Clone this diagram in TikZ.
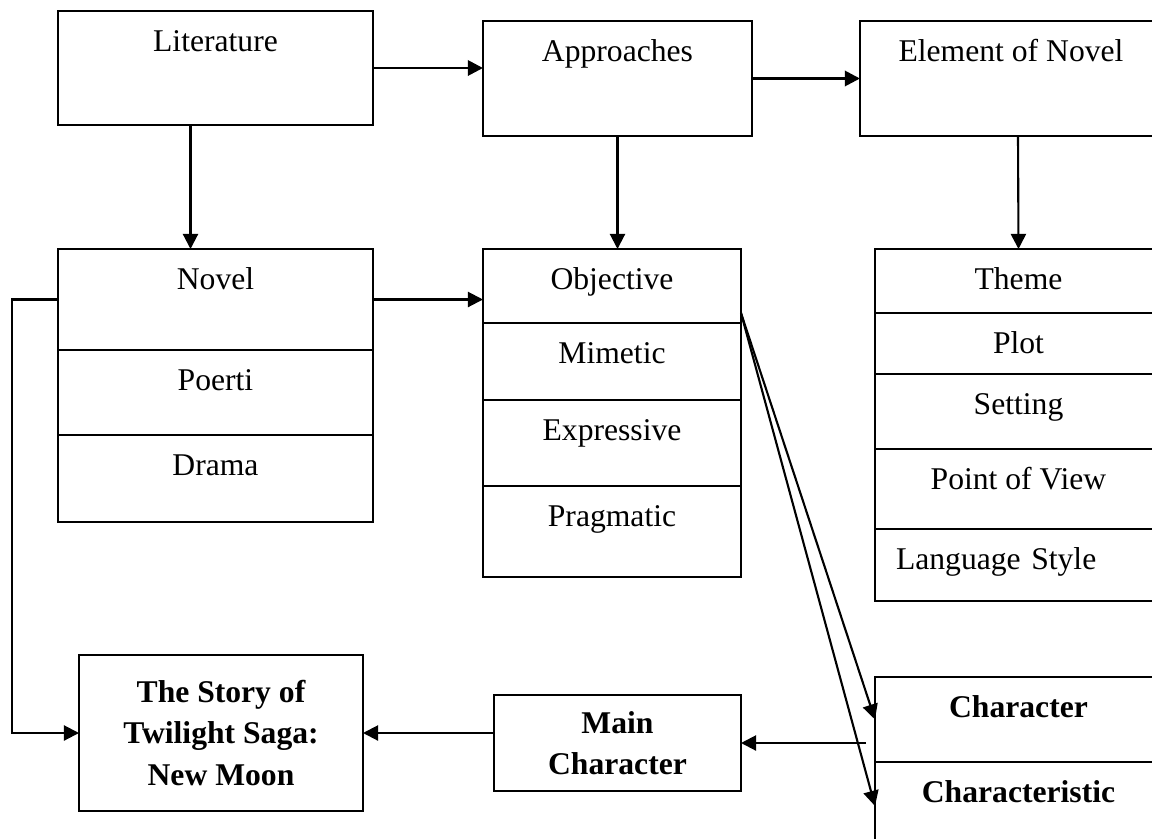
\documentclass[tikz,border=0pt]{standalone}
\usepackage{fontspec}
\setmainfont{Liberation Serif}
\usepackage{tikz}
\usetikzlibrary{
  arrows.meta,
  positioning,
  calc
}
\tikzset{
  cell/.style={
    rectangle, draw, line width=1.6pt, inner sep=0pt, outer sep=0pt,
    text height=1cm, text depth=#1, text centered
  },
  boldbox/.style={
    rectangle, draw, line width=1.6pt, inner sep=0pt, outer sep=0pt,
    align=center, font=\fontsize{22.5}{29.5}\selectfont\bfseries
  },
  arrow/.style={-{Triangle[length=0.38cm, width=0.38cm]}, line width=1.5pt},
}

\begin{document}
\begin{tikzpicture}[
  every node/.style={font=\fontsize{22.5}{29.5}\selectfont},
  colA/.style={minimum width=7.875cm},
  colB/.style={minimum width=6.45cm},
  colC/.style={minimum width=7.175cm},
]
\useasboundingbox (0,0) rectangle (28.8,-20.95);
\clip (0,0) rectangle (28.8,-20.95);

% Top row
\node[cell=1.85cm, colA, anchor=north west] (lit) at (1.45,-0.275) {Literature};
\node[cell=1.875cm, minimum width=6.725cm, anchor=north west] (appr) at (12.075,-0.525) {Approaches};
\node[cell=1.875cm, minimum width=7.55cm, anchor=north west] (elem) at (21.5,-0.525) {Element of Novel};

% Genres
\node[cell=1.525cm, colA, anchor=north west] (novel) at (1.45,-6.225) {Novel};
\node[cell=1.125cm, colA, below=0pt of novel] (poerti) {Poerti};
\node[cell=1.175cm, colA, below=0pt of poerti] (drama) {Drama};

% Approaches list
\node[cell=0.85cm, colB, anchor=north west] (obj) at (12.075,-6.225) {Objective};
\node[cell=0.925cm, colB, below=0pt of obj] (mimetic) {Mimetic};
\node[cell=1.15cm, colB, below=0pt of mimetic] (expr) {Expressive};
\node[cell=1.275cm, colB, below=0pt of expr] (prag) {Pragmatic};

% Elements list
\node[cell=0.6cm, colC, anchor=north west] (theme) at (21.875,-6.225) {Theme};
\node[cell=0.525cm, colC, below=0pt of theme] (plot) {Plot};
\node[cell=0.875cm, colC, below=0pt of plot] (setting) {Setting};
\node[cell=1.0cm, colC, below=0pt of setting] (pov) {Point of View};
\node[cell=0.8cm, colC, below=0pt of pov, inner xsep=0.525cm, text width=6.125cm, align=left] (lang) {Language Style};

% Bottom row
\node[boldbox, minimum width=7.1cm, minimum height=3.9cm, anchor=north west] (story) at (1.975,-16.375) {The Story of\\Twilight Saga:\\New Moon};
\node[boldbox, minimum width=6.175cm, minimum height=2.4cm, anchor=north west] (mainch) at (12.35,-17.375) {Main\\Character};
\node[cell=1.125cm, colC, font=\fontsize{22.5}{29.5}\selectfont\bfseries, anchor=north west] (charac) at (21.875,-16.925) {Character};
\node[cell=1.2cm, colC, font=\fontsize{22.5}{29.5}\selectfont\bfseries, below=0pt of charac] (chst) {Characteristic};

% Arrows
\draw[arrow, line width=2pt] (lit.east) -- (lit.east -| appr.west);
\draw[arrow, line width=2pt] (appr.east) -- (appr.east -| elem.west);
\draw[arrow] ([xshift=-0.625cm]lit.south) -- ([xshift=-0.625cm]novel.north);
\draw[arrow] (appr.south) -- (appr.south |- obj.north);
\draw[arrow] ([xshift=0.175cm]elem.south) -- (theme.north);
\draw[arrow] (novel.east) -- (novel.east -| obj.west);
\draw[arrow] (novel.west) -- ++(-1.15,0) |- (story.west);
\coordinate (fork) at ([yshift=0.25cm]obj.south east);
\draw[arrow] (fork) -- (charac.west);
\draw[arrow] (fork) -- (chst.west);
\draw[arrow] ($(charac.west |- mainch.east)+(-0.225,0)$) -- (mainch.east);
\draw[arrow] (mainch.west |- story.east) -- (story.east);

\end{tikzpicture}
\end{document}
